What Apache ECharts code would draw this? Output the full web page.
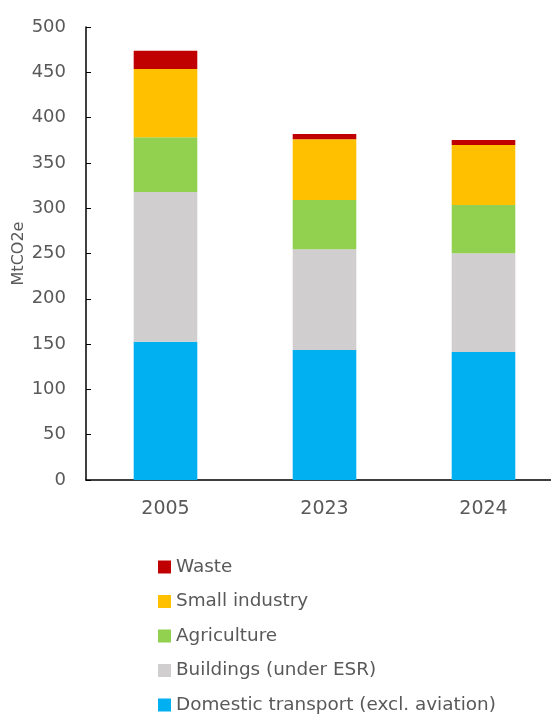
<!DOCTYPE html>
<html><head><meta charset="utf-8">
<script src="https://cdn.jsdelivr.net/npm/echarts@6/dist/echarts.min.js"></script>
<style>html,body{margin:0;padding:0;background:#fff}#c{width:551px;height:715px}</style>
</head><body><div id="c"></div>
<script>
var categories = ['2005', '2023', '2024'];
var transport = [152.7, 143.5, 141.3];
var buildings = [165.2, 111.1, 108.9];
var agriculture = [60.3, 54.4, 53.3];
var smallIndustry = [75.4, 67.0, 66.3];
var waste = [20.2, 5.9, 5.5];
var seriesNames = ['Domestic transport (excl. aviation)', 'Buildings (under ESR)', 'Agriculture', 'Small industry', 'Waste'];
var seriesColors = ['#00B0F0', '#D0CECE', '#92D050', '#FFC000', '#C00000'];
var seriesData = [transport, buildings, agriculture, smallIndustry, waste];
var yTicks = [0, 50, 100, 150, 200, 250, 300, 350, 400, 450, 500];

var FONT = 'DejaVu Sans';
var chart = echarts.init(document.getElementById('c'), null, {renderer: 'canvas'});
chart.setOption({
  animation: false,
  textStyle: {fontFamily: FONT},
  grid: {left: 86, top: 27, height: 453, width: 477, containLabel: false, outerBoundsMode: 'none'},
  legend: {
    orient: 'vertical', left: 158, top: 558, padding: 0, height: 158,
    data: seriesNames.slice().reverse(),
    icon: 'rect', itemWidth: 13, itemHeight: 13, itemGap: 16.5,
    textStyle: {fontSize: 18.4, color: '#595959', fontFamily: FONT, lineHeight: 18}
  },
  xAxis: {
    type: 'category', data: categories,
    axisLine: {lineStyle: {color: '#000', width: 1.5}},
    axisTick: {inside: true, length: 6, lineStyle: {color: '#000'}},
    axisLabel: {fontSize: 19, color: '#595959', margin: 20}
  },
  yAxis: {
    type: 'value', min: yTicks[0], max: yTicks[yTicks.length - 1], interval: 50,
    name: 'MtCO2e', nameLocation: 'middle', nameGap: 59, nameRotate: 90, nameMoveOverlap: false,
    nameTextStyle: {fontSize: 16, color: '#595959'},
    axisLine: {show: true, lineStyle: {color: '#000', width: 1.5}},
    axisTick: {show: true, inside: true, length: 5, lineStyle: {color: '#000'}},
    axisLabel: {fontSize: 18, color: '#595959', margin: 20},
    splitLine: {show: false}
  },
  series: seriesNames.map(function (n, i) {
    return {
      name: n, type: 'bar', stack: 'total', data: seriesData[i],
      barWidth: '40%',
      itemStyle: {color: seriesColors[i]}
    };
  })
});
</script></body></html>
